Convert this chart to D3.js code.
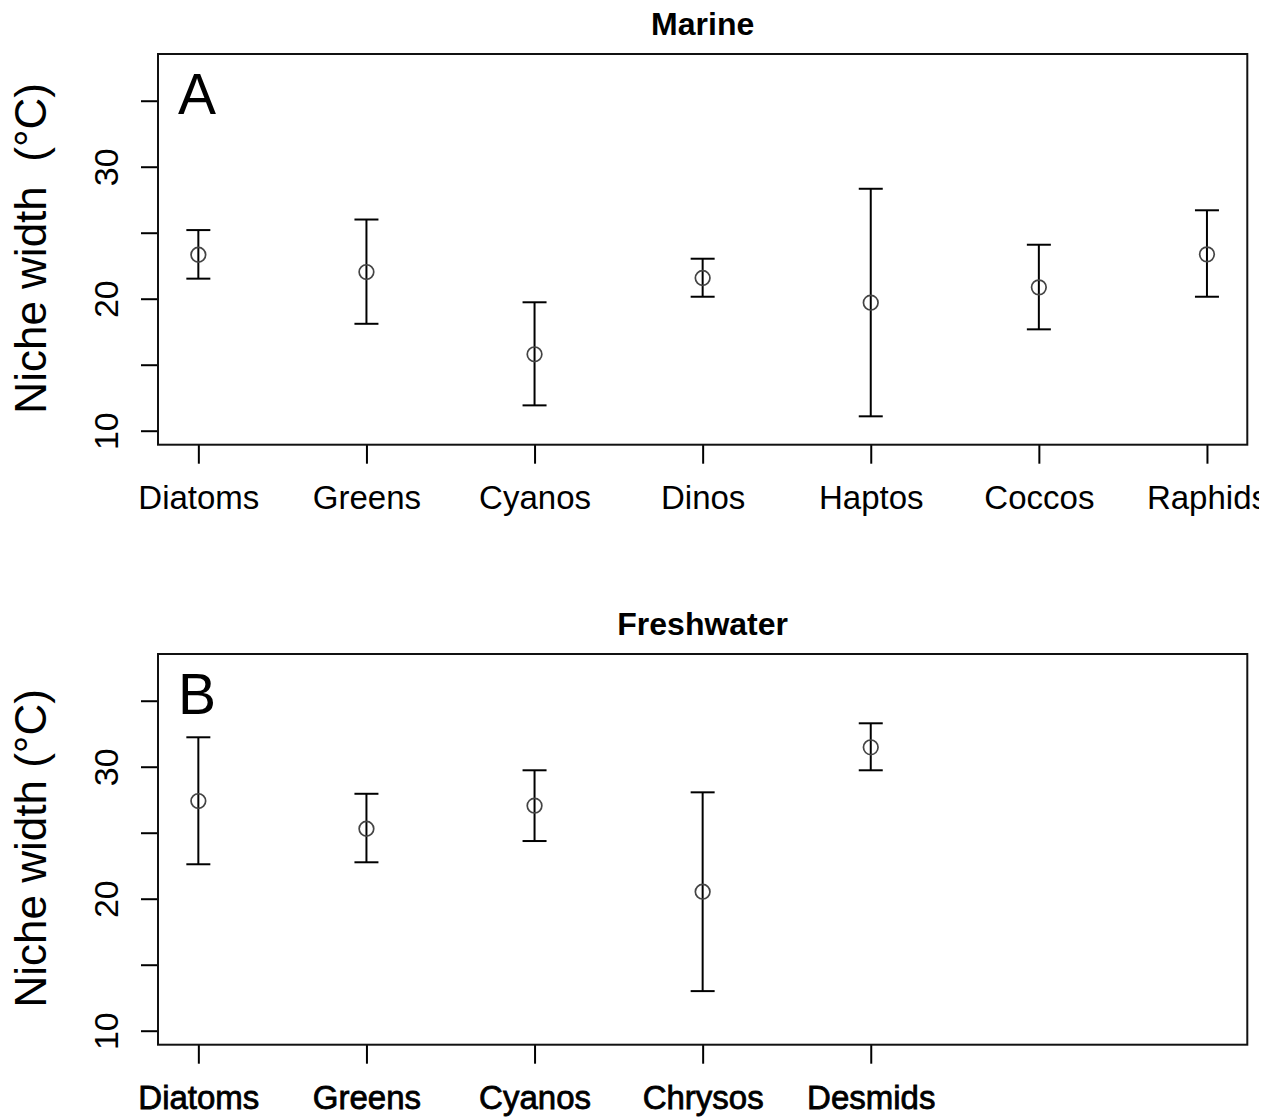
<!DOCTYPE html>
<html>
<head>
<meta charset="utf-8">
<script src="https://cdn.jsdelivr.net/npm/d3@7"></script>
<style>
  html, body { margin: 0; padding: 0; background: #fff; }
  svg { display: block; }
  text { font-family: "Liberation Sans", Arial, Helvetica, sans-serif; fill: #000; }
</style>
</head>
<body>
<svg id="chart" width="1274" height="1119"></svg>
<script>
// Thermal niche width (mean with error bars) by phytoplankton group
const marineGroups = ["Diatoms", "Greens", "Cyanos", "Dinos", "Haptos", "Coccos", "Raphids"];
const marineMean   = [23.33, 22.02, 15.79, 21.57, 19.70, 20.86, 23.36];
const marineLower  = [21.52, 18.10, 11.92, 20.15, 11.09, 17.68, 20.15];
const marineUpper  = [25.20, 26.00, 19.73, 23.03, 28.33, 24.09, 26.70];

const freshGroups = ["Diatoms", "Greens", "Cyanos", "Chrysos", "Desmids"];
const freshMean   = [27.40, 25.30, 27.05, 20.53, 31.47];
const freshLower  = [22.61, 22.76, 24.37, 13.00, 29.73];
const freshUpper  = [32.23, 27.95, 29.73, 28.06, 33.29];

const yTicks = [10, 15, 20, 25, 30, 35];
const yTickLabels = [10, 20, 30];

const svg = d3.select("#chart");
svg.append("defs").append("clipPath").attr("id", "frame")
  .append("rect").attr("x", 0).attr("y", 0).attr("width", 1259).attr("height", 1119);
const root = svg.append("g").attr("clip-path", "url(#frame)");

const left = 158, right = 1247.3;
const top0 = 54, bottom0 = 444.7;

// shared scales: x runs over slot positions 1..7, y in degrees C
const x = d3.scaleLinear().domain([0.76, 7.24]).range([left, right]);
const y = d3.scaleLinear().domain([8.94, 38.54]).range([bottom0, top0]);

function panel(g, opts) {
  const { groups, mean, lower, upper, title, letter, ylab, boldLabels } = opts;
  const rows = groups.map((name, i) => ({ name, pos: i + 1, mean: mean[i], lo: lower[i], hi: upper[i] }));

  // title
  g.append("text")
    .attr("x", (left + right) / 2).attr("y", top0 - 19)
    .attr("text-anchor", "middle")
    .style("font-size", "32px").style("font-weight", "bold")
    .text(title);

  // y axis: ticks every 5, labelled at 10/20/30, labels rotated
  const yAxis = d3.axisLeft(y).tickValues(yTicks).tickSize(17)
    .tickFormat(d => yTickLabels.includes(d) ? d : "");
  const ya = g.append("g").attr("transform", `translate(${left},0)`).call(yAxis);
  ya.select(".domain").remove();
  ya.selectAll(".tick line").attr("stroke", "#000").attr("stroke-width", 2);
  ya.selectAll(".tick text")
    .attr("transform", "rotate(-90)")
    .attr("x", 0).attr("y", -40).attr("dy", null)
    .attr("text-anchor", "middle")
    .style("font-size", "34px")
    .style("font-family", "'Liberation Sans', Arial, Helvetica, sans-serif")
    .attr("fill", "#000");

  // x axis: one tick per group
  const xAxis = d3.axisBottom(x).tickValues(rows.map(r => r.pos)).tickSize(19)
    .tickFormat((d, i) => rows[i].name);
  const xa = g.append("g").attr("transform", `translate(0,${bottom0})`).call(xAxis);
  xa.select(".domain").remove();
  xa.selectAll(".tick line").attr("stroke", "#000").attr("stroke-width", 2);
  const xt = xa.selectAll(".tick text")
    .attr("y", 64).attr("dy", null)
    .style("font-size", "33px")
    .style("font-family", "'Liberation Sans', Arial, Helvetica, sans-serif")
    .attr("fill", "#000");
  if (boldLabels) xt.attr("stroke", "#000").attr("stroke-width", 0.8);

  // y axis title
  g.append("text")
    .attr("transform", `translate(46,${(top0 + bottom0) / 2 - 1}) rotate(-90)`)
    .attr("text-anchor", "middle")
    .style("font-size", "44px")
    .style("white-space", "pre")
    .attr("xml:space", "preserve")
    .text(ylab);

  // error bars
  const bars = g.append("g").attr("stroke", "#000").attr("stroke-width", 2).attr("fill", "none");
  const cap = 12;
  bars.selectAll("line.stem").data(rows).join("line").attr("class", "stem")
    .attr("x1", d => x(d.pos)).attr("x2", d => x(d.pos))
    .attr("y1", d => y(d.lo)).attr("y2", d => y(d.hi));
  bars.selectAll("line.capHi").data(rows).join("line").attr("class", "capHi")
    .attr("x1", d => x(d.pos) - cap).attr("x2", d => x(d.pos) + cap)
    .attr("y1", d => y(d.hi)).attr("y2", d => y(d.hi));
  bars.selectAll("line.capLo").data(rows).join("line").attr("class", "capLo")
    .attr("x1", d => x(d.pos) - cap).attr("x2", d => x(d.pos) + cap)
    .attr("y1", d => y(d.lo)).attr("y2", d => y(d.lo));

  // mean points as open circles
  g.append("g").selectAll("circle").data(rows).join("circle")
    .attr("cx", d => x(d.pos)).attr("cy", d => y(d.mean)).attr("r", 7.3)
    .attr("fill", "none").attr("stroke", "#444").attr("stroke-width", 1.7);

  // plot frame
  g.append("rect")
    .attr("x", left).attr("y", top0)
    .attr("width", right - left).attr("height", bottom0 - top0)
    .attr("fill", "none").attr("stroke", "#111").attr("stroke-width", 2);

  // panel letter
  g.append("text")
    .attr("x", 178).attr("y", 114)
    .style("font-size", "57px")
    .text(letter);
}

panel(root.append("g"), {
  groups: marineGroups, mean: marineMean, lower: marineLower, upper: marineUpper,
  title: "Marine", letter: "A", ylab: "Niche width  (°C)", boldLabels: false
});

panel(root.append("g").attr("transform", "translate(0,600)"), {
  groups: freshGroups, mean: freshMean, lower: freshLower, upper: freshUpper,
  title: "Freshwater", letter: "B", ylab: "Niche width (°C)", boldLabels: true
});
</script>
</body>
</html>
